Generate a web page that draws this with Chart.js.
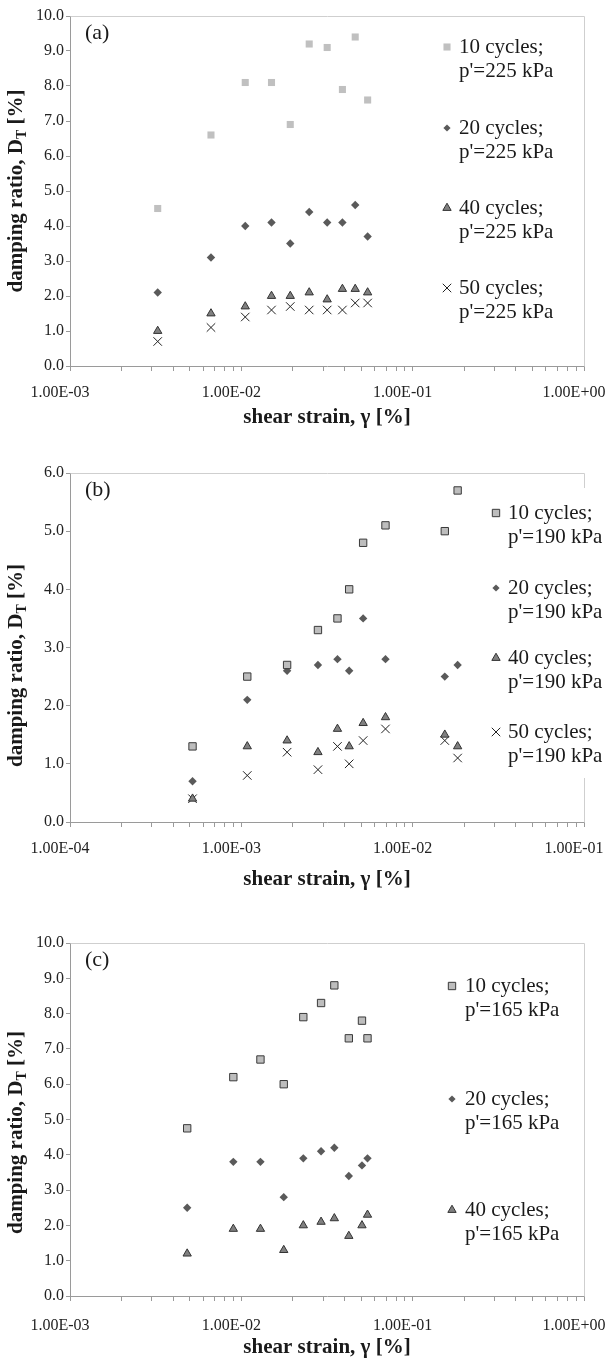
<!DOCTYPE html>
<html><head><meta charset="utf-8">
<script src="https://cdn.jsdelivr.net/npm/chart.js@4.4.0/dist/chart.umd.min.js"></script>
<style>
html,body{margin:0;padding:0;background:#fff;}
body{width:609px;height:1362px;position:relative;overflow:hidden;}
.box{position:absolute;left:0;width:609px;}
canvas{display:block;}
</style></head><body>
<div class="box" style="top:0;height:450px"><canvas id="ca" width="609" height="450"></canvas></div>
<div class="box" style="top:450px;height:450px"><canvas id="cb" width="609" height="450"></canvas></div>
<div class="box" style="top:900px;height:462px"><canvas id="cc" width="609" height="462"></canvas></div>
<script>
// ---------- data ----------
const strainA = [3.25e-3, 6.65e-3, 1.054e-2, 1.50e-2, 1.93e-2, 2.49e-2, 3.17e-2, 3.89e-2, 4.62e-2, 5.46e-2];
const dampA10 = [4.5, 6.6, 8.1, 8.1, 6.9, 9.2, 9.1, 7.9, 9.4, 7.6];
const dampA20 = [2.1, 3.1, 4.0, 4.1, 3.5, 4.4, 4.1, 4.1, 4.6, 3.7];
const dampA40 = [1.0, 1.5, 1.7, 2.0, 2.0, 2.1, 1.9, 2.2, 2.2, 2.1];
const dampA50 = [0.7, 1.1, 1.4, 1.6, 1.7, 1.6, 1.6, 1.6, 1.8, 1.8];

const strainB = [5.19e-4, 1.083e-3, 1.85e-3, 2.80e-3, 3.64e-3, 4.26e-3, 5.14e-3, 6.94e-3, 1.54e-2, 1.83e-2];
const dampB10 = [1.3, 2.5, 2.7, 3.3, 3.5, 4.0, 4.8, 5.1, 5.0, 5.7];
const dampB20 = [0.7, 2.1, 2.6, 2.7, 2.8, 2.6, 3.5, 2.8, 2.5, 2.7];
const dampB40 = [0.4, 1.3, 1.4, 1.2, 1.6, 1.3, 1.7, 1.8, 1.5, 1.3];
const dampB50 = [0.4, 0.8, 1.2, 0.9, 1.3, 1.0, 1.4, 1.6, 1.4, 1.1];

const strainC = [4.83e-3, 8.98e-3, 1.293e-2, 1.768e-2, 2.30e-2, 2.92e-2, 3.49e-2, 4.24e-2, 5.06e-2, 5.45e-2];
const dampC10 = [4.75, 6.2, 6.7, 6.0, 7.9, 8.3, 8.8, 7.3, 7.8, 7.3];
const dampC20 = [2.5, 3.8, 3.8, 2.8, 3.9, 4.1, 4.2, 3.4, 3.7, 3.9];
const dampC40 = [1.2, 1.9, 1.9, 1.3, 2.0, 2.1, 2.2, 1.7, 2.0, 2.3];

const decadesAC = [1e-3, 1e-2, 1e-1, 1];
const tickLabelsAC = ['1.00E-03', '1.00E-02', '1.00E-01', '1.00E+00'];
const decadesB = [1e-4, 1e-3, 1e-2, 1e-1];
const tickLabelsB = ['1.00E-04', '1.00E-03', '1.00E-02', '1.00E-01'];

const seriesNames = ['10 cycles;', '20 cycles;', '40 cycles;', '50 cycles;'];
const pressA = "p'=225 kPa", pressB = "p'=190 kPa", pressC = "p'=165 kPa";
const panelLabels = ['(a)', '(b)', '(c)'];
const xTitle = 'shear strain, \u03b3 [%]';
const yTitleParts = ['damping ratio, D', 'T', ' [%]'];

// ---------- styles ----------
const FONT = '"Liberation Serif", "Times New Roman", serif';
const sty = {
  sq:  {pointStyle: 'rect', radius: 5, backgroundColor: '#c0c0c0', borderColor: '#c0c0c0', borderWidth: 0},
  sqB: {pointStyle: 'rect', radius: 5.2, backgroundColor: '#bdbdbd', borderColor: '#3a3a3a', borderWidth: 1},
  dia: {pointStyle: 'rectRot', radius: 4.2, backgroundColor: '#5a5a5a', borderColor: '#5a5a5a', borderWidth: 0},
  tri: {pointStyle: 'triangle', radius: 4.8, backgroundColor: '#808080', borderColor: '#333333', borderWidth: 1},
  crs: {pointStyle: 'crossRot', radius: 6, backgroundColor: '#222222', borderColor: '#222222', borderWidth: 1}
};

function pts(xs, ys) { return xs.map((x, i) => ({x: x, y: ys[i]})); }
function ds(label, xs, ys, s) {
  return {label: label, data: pts(xs, ys), pointStyle: s.pointStyle, pointRadius: s.radius,
    pointHoverRadius: s.radius, backgroundColor: s.backgroundColor, borderColor: s.borderColor,
    borderWidth: s.borderWidth, pointBorderWidth: s.borderWidth, showLine: false};
}
function logTicks(decades) {
  const out = [];
  for (let i = 0; i < decades.length; i++) {
    out.push(decades[i]);
    if (i < decades.length - 1) for (let m = 2; m <= 9; m++) out.push(decades[i] * m);
  }
  return out;
}

function drawMarker(ctx, s, x, y) {
  ctx.save();
  ctx.fillStyle = s.backgroundColor;
  ctx.strokeStyle = s.borderColor;
  ctx.lineWidth = s.borderWidth || 1;
  if (Chart.helpers && Chart.helpers.drawPoint) {
    Chart.helpers.drawPoint(ctx, {pointStyle: s.pointStyle, radius: s.legendRadius || s.radius, rotation: 0, borderWidth: s.borderWidth}, x, y);
  }
  ctx.restore();
}

const deco = {
  id: 'deco',
  beforeDatasetsDraw(chart, args, o) {
    const a = chart.chartArea, ctx = chart.ctx;
    ctx.save();
    ctx.strokeStyle = '#cfcfcf';
    ctx.lineWidth = 1;
    ctx.beginPath();
    ctx.moveTo(Math.round(a.left) + 0.5, Math.round(a.top) + 0.5);
    ctx.lineTo(Math.round(a.right) + 0.5, Math.round(a.top) + 0.5);
    ctx.lineTo(Math.round(a.right) + 0.5, Math.round(a.bottom) + 0.5);
    ctx.stroke();
    ctx.restore();
  },
  afterDatasetsDraw(chart, args, o) {
    const a = chart.chartArea, ctx = chart.ctx;
    ctx.save();
    if (o.box) {
      ctx.fillStyle = '#ffffff';
      ctx.fillRect(o.box[0], o.box[1], o.box[2], o.box[3]);
    }
    // legend
    ctx.fillStyle = '#1a1a1a';
    ctx.font = '21px ' + FONT;
    ctx.textBaseline = 'middle';
    ctx.textAlign = 'left';
    o.legend.forEach((it, i) => {
      const y = o.legY[i];
      drawMarker(ctx, it.style, o.legMarkX, y);
      ctx.fillStyle = '#1a1a1a';
      ctx.font = '21px ' + FONT;
      ctx.fillText(it.l1, o.legTextX, y);
      ctx.fillText(it.l2, o.legTextX, y + 24);
    });
    // panel label
    ctx.font = '22px ' + FONT;
    ctx.fillText(o.panel, a.left + 15, a.top + 17);
    // y title with subscript
    const big = 'bold 21px ' + FONT, small = 'bold 14px ' + FONT;
    ctx.font = big; const w1 = ctx.measureText(yTitleParts[0]).width;
    ctx.font = small; const w2 = ctx.measureText(yTitleParts[1]).width;
    ctx.font = big; const w3 = ctx.measureText(yTitleParts[2]).width;
    const tot = w1 + w2 + w3;
    ctx.translate(15, (a.top + a.bottom) / 2 + (o.yTitleShift || 0));
    ctx.rotate(-Math.PI / 2);
    ctx.textBaseline = 'alphabetic';
    let x = -tot / 2;
    ctx.font = big; ctx.fillText(yTitleParts[0], x, 7); x += w1;
    ctx.font = small; ctx.fillText(yTitleParts[1], x, 11); x += w2;
    ctx.font = big; ctx.fillText(yTitleParts[2], x, 7);
    ctx.restore();
  }
};

function makeChart(id, c) {
  const ticksList = logTicks(c.decades);
  return new Chart(document.getElementById(id), {
    type: 'scatter',
    data: {datasets: c.datasets},
    plugins: [deco],
    options: {
      responsive: false,
      animation: false,
      devicePixelRatio: 1,
      layout: {padding: {left: 0, right: 25, top: c.top, bottom: 0}},
      plugins: {
        legend: {display: false},
        tooltip: {enabled: false},
        deco: c.deco
      },
      scales: {
        x: {
          type: 'logarithmic',
          position: 'bottom',
          min: c.decades[0],
          max: c.decades[c.decades.length - 1],
          afterBuildTicks: s => { s.ticks = ticksList.map(v => ({value: v})); },
          afterFit: s => { s.height = c.H - c.bottom; s.paddingLeft = 0; s.paddingRight = 0; },
          grid: {drawOnChartArea: false, drawTicks: true, tickLength: 5, color: '#9a9a9a', lineWidth: 1},
          border: {display: true, color: '#9a9a9a', width: 1},
          ticks: {
            autoSkip: false, maxRotation: 0, minRotation: 0, padding: c.xTickPad, labelOffset: -10,
            color: '#222222', font: {family: FONT, size: 16},
            callback: v => {
              for (let i = 0; i < c.decades.length; i++) {
                if (Math.abs(Math.log10(v) - Math.log10(c.decades[i])) < 1e-6) return c.tickLabels[i];
              }
              return '';
            }
          },
          title: {display: true, text: xTitle, color: '#1a1a1a',
            font: {family: FONT, size: 21, weight: 'bold'}, padding: {top: 0, bottom: c.xTitlePad}}
        },
        y: {
          type: 'linear',
          min: 0, max: c.ymax,
          afterFit: s => { s.width = 70; s.paddingTop = 0; s.paddingBottom = 0; },
          grid: {drawOnChartArea: false, drawTicks: true, tickLength: 4, color: '#9a9a9a'},
          border: {display: true, color: '#9a9a9a', width: 1},
          ticks: {stepSize: 1, padding: 2, color: '#222222', font: {family: FONT, size: 16},
            callback: v => Number(v).toFixed(1)}
        }
      }
    }
  });
}

makeChart('ca', {
  H: 450, top: 16, bottom: 366, ymax: 10, decades: decadesAC, tickLabels: tickLabelsAC, xTitlePad: 20, xTickPad: 12,
  datasets: [ds('10', strainA, dampA10, sty.sq), ds('20', strainA, dampA20, sty.dia),
             ds('40', strainA, dampA40, sty.tri), ds('50', strainA, dampA50, sty.crs)],
  deco: {panel: panelLabels[0], legMarkX: 447, legTextX: 459, legY: [47, 128, 208, 288], yTitleShift: 0,
    legend: [{style: sty.sq, l1: seriesNames[0], l2: pressA}, {style: Object.assign({}, sty.dia, {legendRadius: 3.6}), l1: seriesNames[1], l2: pressA},
             {style: sty.tri, l1: seriesNames[2], l2: pressA}, {style: sty.crs, l1: seriesNames[3], l2: pressA}]}
});
makeChart('cb', {
  H: 450, top: 23, bottom: 372, ymax: 6, decades: decadesB, tickLabels: tickLabelsB, xTitlePad: 8, xTickPad: 12,
  datasets: [ds('10', strainB, dampB10, sty.sqB), ds('20', strainB, dampB20, sty.dia),
             ds('40', strainB, dampB40, sty.tri), ds('50', strainB, dampB50, sty.crs)],
  deco: {panel: panelLabels[1], legMarkX: 496, legTextX: 508, legY: [63, 138, 208, 282], box: [488, 38, 121, 290], yTitleShift: 18,
    legend: [{style: sty.sqB, l1: seriesNames[0], l2: pressB}, {style: Object.assign({}, sty.dia, {legendRadius: 3.6}), l1: seriesNames[1], l2: pressB},
             {style: sty.tri, l1: seriesNames[2], l2: pressB}, {style: sty.crs, l1: seriesNames[3], l2: pressB}]}
});
makeChart('cc', {
  H: 462, top: 43, bottom: 396, ymax: 10, decades: decadesAC, tickLabels: tickLabelsAC, xTitlePad: 2, xTickPad: 15,
  datasets: [ds('10', strainC, dampC10, sty.sqB), ds('20', strainC, dampC20, sty.dia),
             ds('40', strainC, dampC40, sty.tri)],
  deco: {panel: panelLabels[2], legMarkX: 452, legTextX: 465, legY: [86, 199, 310], yTitleShift: 13,
    legend: [{style: sty.sqB, l1: seriesNames[0], l2: pressC}, {style: Object.assign({}, sty.dia, {legendRadius: 3.6}), l1: seriesNames[1], l2: pressC},
             {style: sty.tri, l1: seriesNames[2], l2: pressC}]}
});
</script>
</body></html>
